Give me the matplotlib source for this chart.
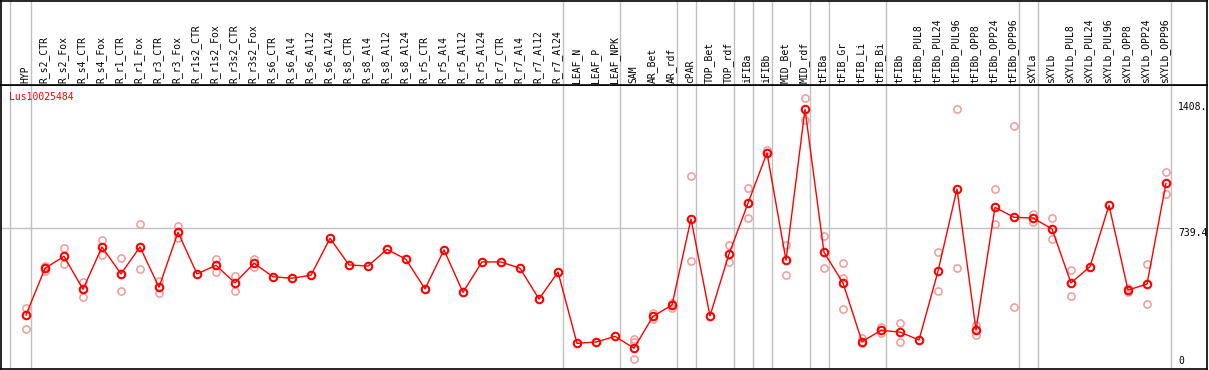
import numpy as np
import matplotlib
matplotlib.use("Agg")
import matplotlib.pyplot as plt

# =========================
# DATA
# =========================

samples = [
    "HYP", "R_s2_CTR", "R_s2_Fox", "R_s4_CTR", "R_s4_Fox", "R_r1_CTR", "R_r1_Fox",
    "R_r3_CTR", "R_r3_Fox", "R_r1s2_CTR", "R_r1s2_Fox", "R_r3s2_CTR", "R_r3s2_Fox",
    "R_s6_CTR", "R_s6_Al4", "R_s6_Al12", "R_s6_Al24", "R_s8_CTR", "R_s8_Al4",
    "R_s8_Al12", "R_s8_Al24", "R_r5_CTR", "R_r5_Al4", "R_r5_Al12", "R_r5_Al24",
    "R_r7_CTR", "R_r7_Al4", "R_r7_Al12", "R_r7_Al24", "LEAF_N", "LEAF_P", "LEAF_NPK",
    "SAM", "AR_Bet", "AR_rdf", "cPAR", "TOP_Bet", "TOP_rdf", "iFIBa", "iFIBb",
    "MID_Bet", "MID_rdf", "tFIBa", "tFIB_Gr", "tFIB_Li", "tFIB_Bi", "tFIBb",
    "tFIBb_PUL8", "tFIBb_PUL24", "tFIBb_PUL96", "tFIBb_OPP8", "tFIBb_OPP24",
    "tFIBb_OPP96", "sXYLa", "sXYLb", "sXYLb_PUL8", "sXYLb_PUL24", "sXYLb_PUL96",
    "sXYLb_OPP8", "sXYLb_OPP24", "sXYLb_OPP96",
]

# number of samples in each tissue group (separators drawn between groups)
group_sizes = [1, 28, 3, 3, 1, 2, 1, 1, 2, 1, 3, 7, 1, 7]

mean_expr = [
    274, 523, 587, 411, 637, 493, 637, 422, 715, 493, 539, 445, 550,
    478, 470, 486, 683, 541, 535, 624, 571, 413, 621, 395, 557,
    557, 523, 359, 503, 123, 130, 160, 97, 267, 327, 786, 269, 599,
    870, 1139, 566, 1371, 608, 445, 132, 192, 183, 141, 507, 946,
    194, 848, 795, 791, 733, 445, 532, 859, 407, 439, 976,
]

nan = np.nan
rep_a = [
    310, 537, 630, 452, 674, 576, 758, 455, 749, nan, 571, 482, 571,
    nan, nan, nan, nan, nan, nan, nan, nan, nan, nan, nan, nan,
    nan, nan, nan, nan, nan, nan, nan, 144, 283, 336, 1014, nan, 647,
    950, 1154, 647, 1429, 694, 550, 150, 212, 231, nan, 612, 1372,
    219, 946, 1280, 811, 790, 512, nan, nan, 416, 546, 1035,
]
rep_b = [
    198, 509, 544, 372, 594, 402, 518, 393, 686, nan, 505, 402, 530,
    nan, nan, nan, nan, nan, nan, nan, nan, nan, nan, nan, nan,
    nan, nan, nan, nan, nan, nan, nan, 38, 254, 310, 560, nan, 555,
    790, nan, 486, 1314, 523, 306, 123, 176, 132, nan, 400, 523,
    169, 758, 315, 772, 678, 374, nan, nan, 398, 333, 918,
]
rep_c = [nan] * 61
rep_c[32] = 130
rep_c[43] = 473

gene = "Lus10025484"
ytick_vals = [1408, 739.4, 0]
ytick_text = ["1408.", "739.4", "0"]

# =========================
# LAYOUT
# =========================

W, H = 1209, 370
fig = plt.figure(figsize=(W / 100, H / 100), dpi=100)
MONO = "DejaVu Sans Mono"
GRID = "#c0c0c0"

# pixel geometry of the original
x_left, x_right = 1, 1207
col0, step = 26, 19
y_head, y_bot = 85, 369
xlim = ((x_left - col0) / step, (x_right - col0) / step)
ylim = (-13.9, 1500.3)

ax = fig.add_axes([x_left / W, (H - y_bot) / H, (x_right - x_left) / W, (y_bot - y_head) / H])
hx = fig.add_axes([x_left / W, (H - y_head) / H, (x_right - x_left) / W, (y_head - 1) / H])

for a in (ax, hx):
    a.set_xlim(*xlim)
    a.set_xticks([])
    a.set_yticks([])
    for s in a.spines.values():
        s.set_color("black")
        s.set_linewidth(1.2)
ax.set_ylim(*ylim)
hx.set_ylim(0, 1)

x = np.arange(len(samples))
last_col = len(samples) - 1 + 0.24

# group separators
bounds = np.cumsum([0] + group_sizes) - 1 + 0.24
for b in bounds:
    ax.axvline(b - 0.08 if b < 0 else b, color=GRID, lw=1, zorder=0)
    hx.axvline(b - 0.08 if b < 0 else b, color=GRID, lw=1, zorder=0)

# horizontal grid at mid tick
ax.plot([xlim[0], last_col], [ytick_vals[1]] * 2, color=GRID, lw=1, zorder=0)

# replicates
for rep in (rep_a, rep_b, rep_c):
    ax.plot(x, rep, ls="none", marker="o", ms=5.2, mfc="none",
            mec="#f09a9a", mew=1.1, zorder=2)

# mean profile
ax.plot(x, mean_expr, color="red", lw=1, marker="o", ms=5.4, mfc="none",
        mec="red", mew=1.5, zorder=3)

# gene label
ax.text((9 - x_left) / (x_right - x_left), 1 - (97 - y_head) / (y_bot - y_head), gene,
        transform=ax.transAxes, color="red", fontsize=7, family=MONO,
        va="center", ha="left")

# y tick labels on the right
xt = (1178 - col0) / step
for v, t in zip(ytick_vals, ytick_text):
    ax.text(xt, v, t, fontsize=7, family=MONO, ha="left",
            va="bottom" if v == 0 else "top")

# rotated sample labels
for i, s in enumerate(samples):
    hx.text(i - 0.05, 2 / (y_head - 1), s, rotation=90, fontsize=7, family=MONO,
            ha="center", va="bottom")

fig.savefig("out.png", dpi=100)
